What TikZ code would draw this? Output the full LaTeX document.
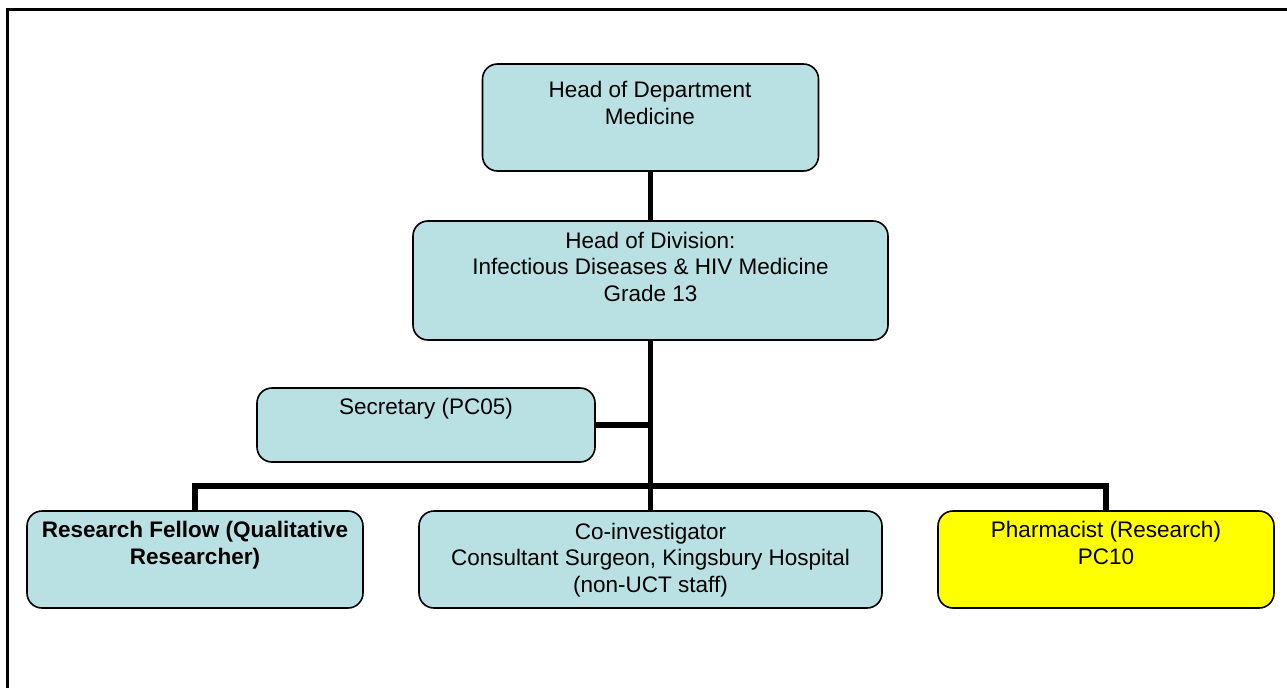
\documentclass[tikz,border=0pt]{standalone}
\usepackage{fontspec}
\setmainfont{Liberation Sans}
\definecolor{boxblue}{RGB}{185,224,227}
\definecolor{boxyellow}{RGB}{255,255,0}
\begin{document}
\begin{tikzpicture}[x=1pt,y=-1pt,
  orgbox/.style={draw=black, line width=1.6pt, rounded corners=15pt, fill=boxblue, inner sep=0pt, outer sep=0pt},
  orgtext/.style={anchor=base, align=center, inner sep=0pt, font=\fontsize{22.5}{26.5}\selectfont},
  link/.style={draw=black, line width=5.5pt}]
\useasboundingbox (0,0) rectangle (1287,688);
\fill[white] (0,0) rectangle (1287,688);
\coordinate (frameBL) at (7.5,688);
\coordinate (frameTL) at (7.5,9);
\coordinate (frameTR) at (1287,9);
\draw[line width=3pt] (frameBL) -- (frameTL) -- (frameTR);

% boxes
\node[orgbox, minimum width=336pt, minimum height=107pt] (hod) at (650.5,117.5) {};
\node[orgbox, minimum width=475pt, minimum height=119pt] (div) at (650.5,280.5) {};
\node[orgbox, minimum width=338pt, minimum height=74pt] (sec) at (426,425) {};
\node[orgbox, minimum width=336pt, minimum height=97pt] (rf) at (195,559.5) {};
\node[orgbox, minimum width=463pt, minimum height=97pt] (co) at (650.5,559.5) {};
\node[orgbox, fill=boxyellow, minimum width=336pt, minimum height=97pt] (ph) at (1106,559.5) {};

\coordinate (bar) at (650.5,486);

% connectors
\draw[link] (hod) -- (div);
\draw[link] (div) -- (co);
\draw[link] (sec.east) -- (sec.east -| div.south);
\draw[link] (rf.north) |- (bar) -| (ph.north);

% texts
\node[orgtext] (hodT) at (650,124) {Head of Department\\Medicine};
\node[orgtext] (divT) at (650.5,301) {Head of Division:\\Infectious Diseases \& HIV Medicine\\Grade 13};
\node[orgtext] (secT) at (426,414) {Secretary (PC05)};
\node[orgtext, font=\fontsize{22.5}{26.5}\selectfont\bfseries] (rfT) at (195,564) {Research Fellow (Qualitative\\Researcher)};
\node[orgtext] (coT) at (650.5,592) {Co-investigator\\Consultant Surgeon, Kingsbury Hospital\\(non-UCT staff)};
\node[orgtext] (phT) at (1106,564) {Pharmacist (Research)\\PC10};
\end{tikzpicture}
\end{document}
